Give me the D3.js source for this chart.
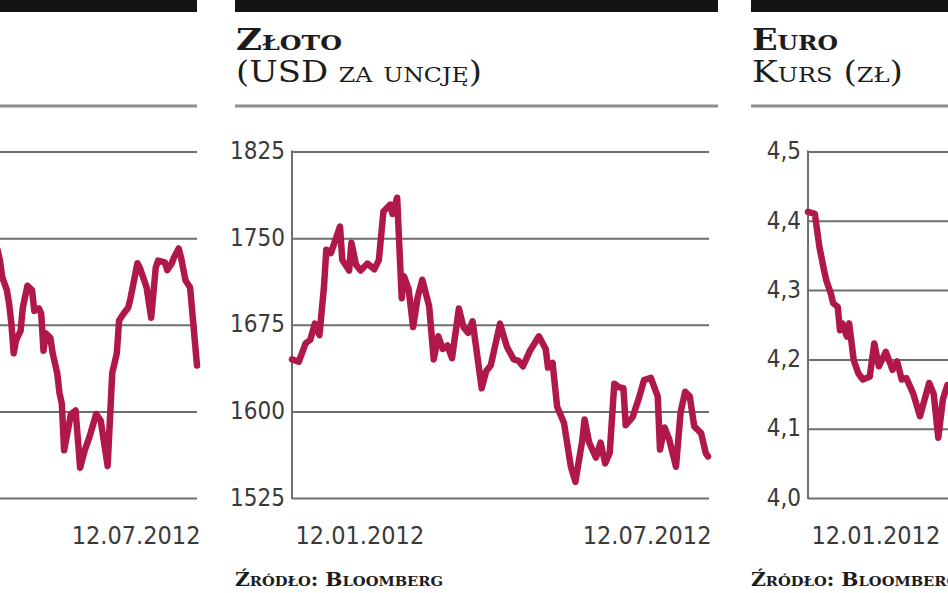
<!DOCTYPE html>
<html>
<head>
<meta charset="utf-8">
<script src="https://cdn.jsdelivr.net/npm/d3@7/dist/d3.min.js"></script>
<style>
  html, body { margin: 0; padding: 0; background: #fff; }
  svg { display: block; }
  .num { font-family: "DejaVu Sans Condensed", "DejaVu Sans", sans-serif; fill: #3a3a3a; }
  .ttl { font-family: "DejaVu Serif", serif; fill: #1c1c1c; font-variant: small-caps; }
</style>
</head>
<body>
<svg id="chart" width="948" height="593"></svg>
<script>
// ---------- DATA ----------
// Left panel (only its last part is visible in the crop)
const leftDates = ["2012-04-16","2012-04-17","2012-04-18","2012-04-20","2012-04-21","2012-04-22","2012-04-23","2012-04-24","2012-04-26","2012-04-27","2012-04-29",
  "2012-05-01","2012-05-02","2012-05-04","2012-05-05","2012-05-06","2012-05-07","2012-05-09","2012-05-10","2012-05-12","2012-05-13","2012-05-14","2012-05-15","2012-05-18","2012-05-20","2012-05-22","2012-05-24","2012-05-26","2012-05-29","2012-05-31",
  "2012-06-03","2012-06-05","2012-06-07","2012-06-08","2012-06-10","2012-06-12","2012-06-13","2012-06-16","2012-06-17","2012-06-19","2012-06-20","2012-06-22","2012-06-24","2012-06-25","2012-06-28","2012-06-29",
  "2012-07-01","2012-07-02","2012-07-04","2012-07-05","2012-07-07","2012-07-09","2012-07-10","2012-07-12"];
const leftValues = [2286,2274,2255,2240,2224,2201,2167,2182,2193,2220,2245,2240,2216,2219,2213,2170,2190,2185,2167,2144,
  2121,2109,2055,2097,2101,2035,2055,2070,2097,2089,2037,2144,2167,2205,2213,2220,2231,2271,2266,2251,
  2243,2208,2266,2274,2272,2263,2271,2278,2288,2278,2251,2243,2213,2153];
const leftTicks = [2000, 2100, 2200, 2300, 2400];

// Złoto (USD za uncję)
const goldDates = ["2012-01-12","2012-01-15","2012-01-18","2012-01-20","2012-01-22","2012-01-24","2012-01-26","2012-01-27","2012-01-29",
  "2012-02-02","2012-02-03","2012-02-06","2012-02-07","2012-02-09","2012-02-11","2012-02-14","2012-02-17","2012-02-19","2012-02-21","2012-02-24","2012-02-25","2012-02-27","2012-02-29",
  "2012-03-01","2012-03-03","2012-03-05","2012-03-07","2012-03-09","2012-03-12","2012-03-14","2012-03-16","2012-03-18","2012-03-20","2012-03-22","2012-03-25","2012-03-27","2012-03-29","2012-03-31",
  "2012-04-04","2012-04-06","2012-04-08","2012-04-12","2012-04-15","2012-04-18","2012-04-20","2012-04-22","2012-04-25","2012-04-29",
  "2012-05-02","2012-05-03","2012-05-05","2012-05-07","2012-05-10","2012-05-13","2012-05-15","2012-05-18","2012-05-19","2012-05-21","2012-05-24","2012-05-26","2012-05-28","2012-05-30",
  "2012-06-01","2012-06-03","2012-06-05","2012-06-06","2012-06-09","2012-06-12","2012-06-14","2012-06-17","2012-06-20","2012-06-21","2012-06-23","2012-06-25","2012-06-28","2012-06-30",
  "2012-07-02","2012-07-04","2012-07-06","2012-07-09","2012-07-11","2012-07-12"];
const goldValues = [1645,1643,1659,1662,1676,1666,1708,1740,1737,1760,1731,1722,1746,1727,1722,1728,1723,1731,1773,1779,
  1771,1785,1698,1717,1706,1673,1699,1714,1691,1645,1665,1654,1657,1646,1689,1673,1668,1678,1620,1635,
  1640,1676,1656,1645,1644,1639,1652,1665,1654,1638,1642,1604,1590,1552,1539,1575,1593,1573,1560,1573,
  1555,1564,1624,1621,1620,1588,1595,1613,1627,1629,1613,1567,1586,1576,1552,1599,1617,1613,1587,1581,
  1564,1561];
const goldTicks = [1525, 1600, 1675, 1750, 1825];

// Euro – kurs (zł)
const euroDates = ["2012-01-12","2012-01-15","2012-01-17","2012-01-19","2012-01-20","2012-01-22","2012-01-23","2012-01-25","2012-01-26","2012-01-27","2012-01-29","2012-01-30",
  "2012-02-01","2012-02-03","2012-02-05","2012-02-08","2012-02-10","2012-02-12","2012-02-15","2012-02-18","2012-02-20","2012-02-22","2012-02-24","2012-02-27",
  "2012-03-01","2012-03-03","2012-03-05","2012-03-07","2012-03-09","2012-03-11","2012-03-13","2012-03-16"];
const euroValues = [4.413,4.41,4.362,4.329,4.314,4.295,4.281,4.276,4.242,4.252,4.233,4.252,
  4.199,4.18,4.171,4.175,4.223,4.19,4.211,4.185,4.197,4.171,4.173,4.151,
  4.118,4.142,4.166,4.15,4.087,4.142,4.163,4.15];
const euroTicks = [4.0, 4.1, 4.2, 4.3, 4.4, 4.5];

const periodStart = "2012-01-12";
const periodEnd = "2012-07-12";
const sourceText = "Źródło: Bloomberg";

// ---------- DRAWING ----------
const parse = d3.timeParse("%Y-%m-%d");
const fmtDate = d3.timeFormat("%d.%m.%Y");
const svg = d3.select("#chart");
svg.append("rect").attr("width", 948).attr("height", 593).attr("fill", "#fff");

const lineColor = "#b0184a";
const gridColor = "#6e6e6e";

// visible: which date labels appear inside the cropped picture
const panels = [
  { dates: leftDates, values: leftValues, ticks: leftTicks, fmt: d3.format("d"), yLabels: false, xLabels: [periodEnd],
    bar: [-300, 197], px: [-220, 197], grid1: 197, title: null, sub: null, srcX: null },
  { dates: goldDates, values: goldValues, ticks: goldTicks, fmt: d3.format("d"), yLabels: true, xLabels: [periodStart, periodEnd],
    bar: [235, 718], px: [292, 708], grid1: 709, title: "Złoto", sub: "(USD za uncję)", tl: 106, sl: 246, srcX: 235 },
  { dates: euroDates, values: euroValues, ticks: euroTicks, fmt: v => d3.format(".1f")(v).replace(".", ","), yLabels: true, xLabels: [periodStart],
    bar: [751, 1240], px: [808, 1224], grid1: 1226, title: "Euro", sub: "Kurs (zł)", tl: 86, sl: 151, srcX: 751 }
];

const yTop = 151.5, yBot = 498;

panels.forEach(p => {
  const g = svg.append("g");
  // top black bar
  g.append("rect").attr("x", p.bar[0]).attr("y", 0).attr("width", p.bar[1] - p.bar[0]).attr("height", 12).attr("fill", "#141414");
  // rule under title
  g.append("line").attr("x1", p.bar[0]).attr("x2", p.bar[1]).attr("y1", 106).attr("y2", 106)
    .attr("stroke", "#8c8c8c").attr("stroke-width", 3);
  if (p.title) {
    g.append("text").attr("class", "ttl").attr("x", p.bar[0] + 1).attr("y", 50)
      .attr("font-size", 30).attr("font-weight", "bold")
      .attr("textLength", p.tl).attr("lengthAdjust", "spacingAndGlyphs").text(p.title);
    g.append("text").attr("class", "ttl").attr("x", p.bar[0] + 1).attr("y", 82)
      .attr("font-size", 30)
      .attr("textLength", p.sl).attr("lengthAdjust", "spacingAndGlyphs").text(p.sub);
  }
  // scales
  const x = d3.scaleTime().domain([parse(periodStart), parse(periodEnd)]).range(p.px);
  const y = d3.scaleLinear().domain([p.ticks[0], p.ticks[p.ticks.length - 1]]).range([yBot, yTop]);

  // y axis with gridlines
  const ya = g.append("g").attr("transform", `translate(${p.px[0]},0)`)
    .call(d3.axisLeft(y).tickValues(p.ticks).tickFormat(p.yLabels ? p.fmt : "").tickSize(-(p.grid1 - p.px[0])).tickPadding(7));
  ya.select(".domain").remove();
  ya.selectAll(".tick line").attr("stroke", gridColor).attr("stroke-width", 2);
  ya.selectAll(".tick text").attr("class", "num").attr("font-size", 24).attr("dy", "0.3em");
  // vertical axis line
  g.append("line").attr("x1", p.px[0]).attr("x2", p.px[0]).attr("y1", yTop - 1).attr("y2", yBot + 1)
    .attr("stroke", gridColor).attr("stroke-width", 2);

  // x axis labels
  const xa = g.append("g").attr("transform", `translate(0,${yBot})`)
    .call(d3.axisBottom(x).tickValues(p.xLabels.map(parse)).tickFormat(fmtDate).tickSize(0).tickPadding(0));
  xa.select(".domain").remove();
  xa.selectAll(".tick text").attr("class", "num").attr("font-size", 25).attr("dy", 0).attr("y", 46)
    .attr("text-anchor", d => +d === +parse(periodStart) ? "start" : "end")
    .attr("dx", 3);

  // line
  const pts = p.dates.map((d, i) => ({ date: parse(d), v: p.values[i] }));
  g.append("path").datum(pts)
    .attr("fill", "none").attr("stroke", lineColor).attr("stroke-width", 6.5)
    .attr("stroke-linejoin", "round").attr("stroke-linecap", "round")
    .attr("d", d3.line().x(d => x(d.date)).y(d => y(d.v)));

  // source
  if (p.srcX !== null) {
    g.append("text").attr("class", "ttl").attr("x", p.srcX).attr("y", 586)
      .attr("font-size", 18).attr("font-weight", "bold")
      .attr("textLength", 208).attr("lengthAdjust", "spacingAndGlyphs").text(sourceText);
  }
});
</script>
</body>
</html>
